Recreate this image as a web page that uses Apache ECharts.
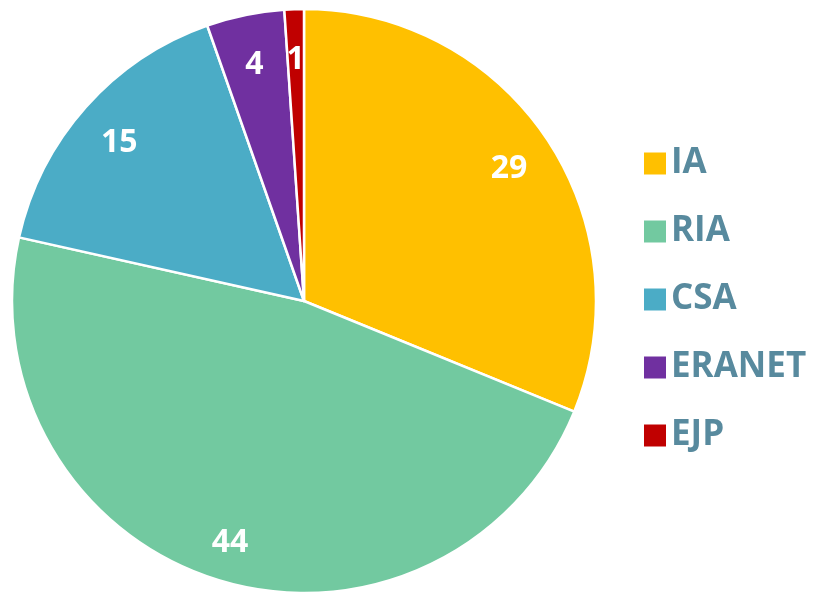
<!DOCTYPE html>
<html>
<head>
<meta charset="utf-8">
<script src="https://cdn.jsdelivr.net/npm/echarts@6/dist/echarts.min.js"></script>
<style>
  html, body { margin: 0; padding: 0; background: #ffffff; }
  #chart { width: 815px; height: 594px; }
</style>
</head>
<body>
<div id="chart"></div>
<script>
// Répartition par type d'action
const categories = ['IA', 'RIA', 'CSA', 'ERANET', 'EJP'];
const values = [29, 44, 15, 4, 1];
const colors = ['#FFC000', '#72C9A0', '#4BACC6', '#7030A0', '#C00000'];

const pieData = categories.map((name, i) => ({
    name: name,
    value: values[i],
    itemStyle: { color: colors[i] }
}));

const labelData = categories.map((name, i) => ({
    name: name,
    value: values[i]
}));

const chart = echarts.init(document.getElementById('chart'));
chart.setOption({
    backgroundColor: '#ffffff',
    animation: false,
    legend: {
        orient: 'vertical',
        left: 639,
        top: 141,
        itemWidth: 22,
        itemHeight: 22,
        itemGap: 33,
        icon: 'rect',
        selectedMode: false,
        data: categories,
        itemStyle: { borderWidth: 0 },
        textStyle: {
            color: '#588A9E',
            fontFamily: 'Open Sans',
            fontWeight: 'bold',
            fontSize: 35,
            lineHeight: 26,
            padding: [0, 0, 0, 0]
        }
    },
    series: [
        {
            name: 'types',
            type: 'pie',
            center: [304, 301],
            radius: [0, 292],
            startAngle: 90,
            clockwise: true,
            data: pieData,
            label: { show: false },
            labelLine: { show: false },
            itemStyle: { borderColor: '#ffffff', borderWidth: 2.5 },
            emphasis: { disabled: true }
        },
        {
            // série transparente pour placer les étiquettes plus près du bord
            name: 'labels',
            type: 'pie',
            silent: true,
            center: [304, 301],
            radius: [196, 292],
            startAngle: 90,
            clockwise: true,
            data: labelData,
            itemStyle: { color: 'rgba(0,0,0,0)' },
            label: {
                show: true,
                position: 'inside',
                formatter: '{c}',
                color: '#ffffff',
                fontFamily: 'Open Sans',
                fontWeight: 'bold',
                fontSize: 32,
                offset: [0, 6]
            },
            labelLine: { show: false },
            emphasis: { disabled: true }
        }
    ]
});
</script>
</body>
</html>
